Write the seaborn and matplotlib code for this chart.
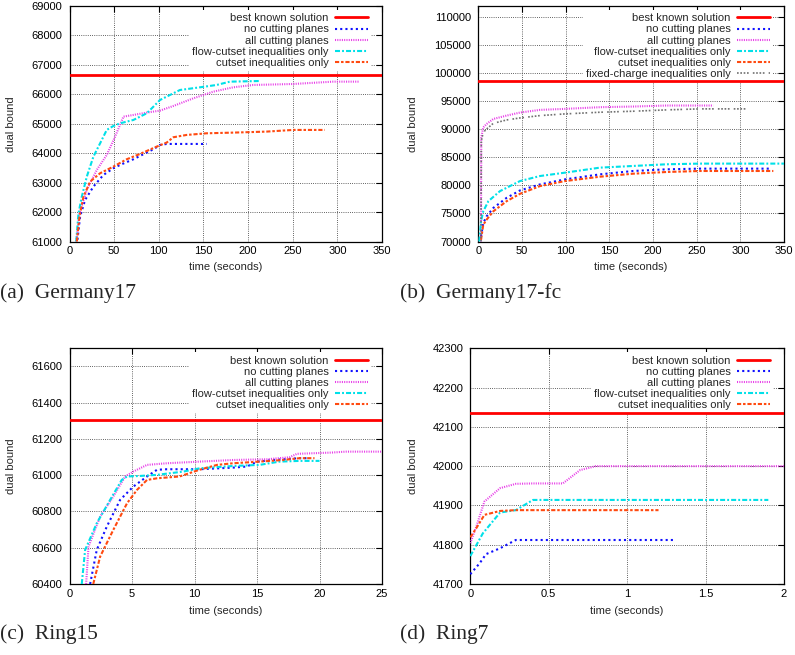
import numpy as np
import pandas as pd
import matplotlib
matplotlib.use("Agg")
import matplotlib.pyplot as plt
from matplotlib.ticker import FormatStrFormatter
import seaborn as sns

# ---------------- data ----------------
# (a) Germany17
g17_best = 66660
g17_none_x = [8.9, 11.9, 17.5, 26.8, 38, 49.2, 56.7, 71.6, 82.7, 93.9, 101.4, 108.8, 153.6]
g17_none_y = [61057, 61850, 62414, 62866, 63262, 63489, 63602, 63794, 63964, 64133, 64281, 64314, 64314]
g17_all_x = [7.5, 11.2, 19.4, 30.6, 41.7, 51.1, 60.4, 71.6, 86.5, 101.4, 116.3, 138.7, 161, 183.4, 205.7, 250.5, 295.2, 325]
g17_all_y = [61000, 61962, 62753, 63432, 63941, 64563, 65242, 65299, 65378, 65446, 65604, 65864, 66090, 66238, 66317, 66351, 66430, 66430]
g17_flow_x = [7.5, 10.1, 13.8, 19.4, 26.8, 34.3, 41.7, 49.2, 56.7, 71.6, 86.5, 94, 101.4, 108.8, 123.7, 146.1, 164.7, 179.6, 213.2]
g17_flow_y = [61000, 61962, 62527, 63206, 63885, 64337, 64790, 64925, 65016, 65129, 65355, 65581, 65808, 65921, 66147, 66238, 66317, 66430, 66452]
g17_cut_x = [8.2, 11.2, 15.7, 23.1, 34.3, 49.2, 64.1, 79, 97.7, 108.8, 116.3, 131.2, 153.6, 183.4, 220.6, 250.5, 285.9]
g17_cut_y = [61000, 61850, 62527, 63036, 63319, 63545, 63794, 63975, 64224, 64360, 64541, 64620, 64676, 64699, 64733, 64790, 64790]

# (b) Germany17-fc
g17fc_best = 98700
g17fc_none_x = [3.1, 5.7, 9.5, 17.2, 32.4, 47.7, 70.6, 99.2, 139.3, 177.5, 215.6, 253.8, 334]
g17fc_none_y = [70898, 73293, 74491, 75988, 77784, 79102, 80180, 81078, 81976, 82575, 82874, 82994, 82994]
g17fc_all_x = [3.1, 3.4, 5.7, 9.5, 17.2, 32.4, 47.7, 70.6, 99.2, 139.3, 177.5, 215.6, 269]
g17fc_all_y = [70000, 88563, 90359, 90958, 91856, 92455, 92994, 93473, 93653, 93952, 94072, 94251, 94251]
g17fc_flow_x = [1.1, 3.1, 5.7, 11.5, 24.8, 47.7, 70.6, 99.2, 139.3, 177.5, 215.6, 253.8, 350]
g17fc_flow_y = [70000, 73593, 75389, 77186, 78982, 80778, 81677, 82275, 83174, 83473, 83772, 83892, 83892]
g17fc_cut_x = [3.1, 5.7, 9.5, 17.2, 32.4, 47.7, 70.6, 99.2, 139.3, 177.5, 215.6, 253.8, 337.8]
g17fc_cut_y = [70299, 72994, 73892, 75389, 77186, 78503, 79880, 80778, 81557, 82096, 82395, 82575, 82575]
g17fc_fc_x = [3.1, 3.4, 5.7, 9.5, 17.2, 32.4, 47.7, 70.6, 99.2, 139.3, 177.5, 215.6, 253.8, 309.2]
g17fc_fc_y = [70000, 87964, 89461, 90060, 91078, 91677, 92036, 92455, 92754, 93054, 93234, 93473, 93653, 93653]

# (c) Ring15
r15_best = 61305
r15_none_x = [1.65, 2.18, 2.98, 4.05, 5.1, 6.2, 7.0, 7.8, 10.4, 13.1, 14.2, 15.0, 16.3, 18.4, 19.2]
r15_none_y = [60400, 60588, 60716, 60864, 60937, 60993, 61030, 61033, 61033, 61042, 61048, 61075, 61084, 61094, 61094]
r15_all_x = [1.33, 1.52, 2.45, 3.5, 4.45, 5.1, 6.2, 7.8, 10.4, 13.1, 15.8, 17.6, 18.2, 21.0, 22.1, 25.0]
r15_all_y = [60400, 60606, 60772, 60882, 60993, 61020, 61057, 61066, 61075, 61084, 61088, 61099, 61118, 61125, 61130, 61130]
r15_flow_x = [0.98, 1.25, 2.18, 3.25, 4.18, 4.6, 5.64, 7.0, 9.1, 10.4, 13.1, 15.2, 16.8, 18.4, 20.0]
r15_flow_y = [60400, 60588, 60735, 60864, 60974, 60993, 60996, 61002, 61020, 61038, 61051, 61057, 61075, 61079, 61079]
r15_cut_x = [1.9, 2.45, 3.5, 4.6, 5.4, 6.2, 7.0, 8.8, 10.4, 11.8, 13.1, 15.2, 17.1, 18.4, 19.6]
r15_cut_y = [60400, 60551, 60698, 60845, 60919, 60974, 60983, 60993, 61030, 61057, 61066, 61075, 61084, 61094, 61094]

# (d) Ring7
r7_best = 42135
r7_none_x = [0.0, 0.06, 0.10, 0.19, 0.29, 1.30]
r7_none_y = [41725, 41753, 41776, 41791, 41812, 41812]
r7_all_x = [0.0, 0.038, 0.09, 0.19, 0.29, 0.40, 0.59, 0.70, 0.80, 2.0]
r7_all_y = [41804, 41846, 41910, 41944, 41955, 41956, 41956, 41990, 42000, 42000]
r7_flow_x = [0.0, 0.08, 0.19, 0.29, 0.40, 1.90]
r7_flow_y = [41771, 41829, 41882, 41888, 41914, 41914]
r7_cut_x = [0.0, 0.038, 0.09, 0.19, 0.29, 1.20]
r7_cut_y = [41819, 41842, 41876, 41886, 41888, 41888]

series_names = ["no cutting planes", "all cutting planes",
                "flow-cutset inequalities only", "cutset inequalities only",
                "fixed-charge inequalities only"]
best_name = "best known solution"

# axis ranges and ticks
g17_xticks = [0, 50, 100, 150, 200, 250, 300, 350]
g17_yticks = [61000, 62000, 63000, 64000, 65000, 66000, 67000, 68000, 69000]
g17fc_yticks = [70000, 75000, 80000, 85000, 90000, 95000, 100000, 105000, 110000]
r15_xticks = [0, 5, 10, 15, 20, 25]
r15_yticks = [60400, 60600, 60800, 61000, 61200, 61400, 61600]
r7_xticks = [0, 0.5, 1, 1.5, 2]
r7_yticks = [41700, 41800, 41900, 42000, 42100, 42200, 42300]

captions = ["(a)  Germany17", "(b)  Germany17-fc", "(c)  Ring15", "(d)  Ring7"]

# ---------------- styling ----------------
sns.set_theme(style="white")
plt.rcParams["font.family"] = ["Liberation Sans", "DejaVu Sans"]
plt.rcParams["axes.linewidth"] = 0.9

FS = 8

styles = {
    "no cutting planes": dict(color="#1010ff", lw=1.5, ls=(0, (1.0, 1.5))),
    "all cutting planes": dict(color="#e83ce8", lw=1.5, ls=(0, (0.5, 0.6))),
    "flow-cutset inequalities only": dict(color="#00e0e8", lw=1.5, ls=(0, (2.4, 1.0, 0.9, 1.0))),
    "cutset inequalities only": dict(color="#ff4a10", lw=1.5, ls=(0, (2.0, 0.9, 1.2, 0.9))),
    "fixed-charge inequalities only": dict(color="#707070", lw=1.2, ls=(0, (1, 1, 1, 1, 1, 1, 1, 2.5))),
}

fig = plt.figure(figsize=(7.95, 6.55), dpi=100)

W, H = 795.0, 655.0


def add_axes_px(left, top, right, bottom):
    return fig.add_axes([left / W, 1 - bottom / H, (right - left) / W, (bottom - top) / H])


panels = [
    dict(rect=(69.5, 6, 382, 241.5), best=g17_best,
         series=[(g17_none_x, g17_none_y), (g17_all_x, g17_all_y),
                 (g17_flow_x, g17_flow_y), (g17_cut_x, g17_cut_y)],
         xlim=(0, 350), ylim=(61000, 69000), xticks=g17_xticks, yticks=g17_yticks,
         ylab_x=16, xlab_y=262),
    dict(rect=(478.3, 6, 784, 241.5), best=g17fc_best,
         series=[(g17fc_none_x, g17fc_none_y), (g17fc_all_x, g17fc_all_y),
                 (g17fc_flow_x, g17fc_flow_y), (g17fc_cut_x, g17fc_cut_y),
                 (g17fc_fc_x, g17fc_fc_y)],
         xlim=(0, 350), ylim=(70000, 112000), xticks=g17_xticks, yticks=g17fc_yticks,
         ylab_x=418, xlab_y=262),
    dict(rect=(69.5, 348.3, 382, 584), best=r15_best,
         series=[(r15_none_x, r15_none_y), (r15_all_x, r15_all_y),
                 (r15_flow_x, r15_flow_y), (r15_cut_x, r15_cut_y)],
         xlim=(0, 25), ylim=(60400, 61700), xticks=r15_xticks, yticks=r15_yticks,
         ylab_x=16.5, xlab_y=606.5),
    dict(rect=(470.3, 348.3, 784, 584), best=r7_best,
         series=[(r7_none_x, r7_none_y), (r7_all_x, r7_all_y),
                 (r7_flow_x, r7_flow_y), (r7_cut_x, r7_cut_y)],
         xlim=(0, 2), ylim=(41700, 42300), xticks=r7_xticks, yticks=r7_yticks,
         ylab_x=418, xlab_y=606.5),
]

for p in panels:
    left, top, right, bottom = p["rect"]
    ax = add_axes_px(left, top, right, bottom)
    # reference line sits above the legend background so it is never cut
    ax.axhline(p["best"], color="#ff0000", lw=2.0, label=best_name, zorder=6)
    for name, (xs, ys) in zip(series_names, p["series"]):
        st = styles[name]
        df = pd.DataFrame({"time": xs, "bound": ys})
        sns.lineplot(data=df, x="time", y="bound", ax=ax, estimator=None, sort=False,
                     color=st["color"], linewidth=st["lw"], linestyle=st["ls"],
                     label=name, zorder=4)
    ax.set_xlim(*p["xlim"])
    ax.set_ylim(*p["ylim"])
    ax.set_xticks(p["xticks"])
    ax.set_yticks(p["yticks"])
    ax.xaxis.set_major_formatter(FormatStrFormatter("%g"))
    ax.yaxis.set_major_formatter(FormatStrFormatter("%g"))
    ax.grid(True, color="#303030", lw=0.6, ls=(0, (1, 1.6)))
    ax.set_axisbelow(True)
    for s in ax.spines.values():
        s.set_visible(True)
        s.set_color("black")
    ax.tick_params(direction="in", top=True, right=True, length=4, width=0.8,
                   labelsize=FS, colors="black")
    ax.tick_params(axis="x", pad=3.5)
    ax.tick_params(axis="y", pad=5)
    ax.set_xlabel("time (seconds)", fontsize=FS)
    ax.set_ylabel("dual bound", fontsize=FS)
    aw, ah = right - left, bottom - top
    ax.yaxis.set_label_coords((p["ylab_x"] - left) / aw, 0.5)
    ax.xaxis.set_label_coords(0.5, -(p["xlab_y"] - bottom) / ah)

    leg = ax.legend(loc="upper right", bbox_to_anchor=(1 - 11 / aw, 1 - 4 / ah),
                    borderaxespad=0, borderpad=0.3, frameon=True, fancybox=False,
                    facecolor="white", edgecolor="none", framealpha=1,
                    markerfirst=False, fontsize=FS, handlelength=2.9,
                    handletextpad=0.6, labelspacing=0.1)
    leg.set_zorder(5)

cap_pos = [(0, 293), (400, 293), (0, 634), (400, 634)]
for (cx, cy), txt in zip(cap_pos, captions):
    fig.text(cx / W, 1 - cy / H, txt, fontsize=15.5, va="center", ha="left",
             family=["Liberation Serif", "DejaVu Serif"])

fig.savefig("out.png", dpi=100)
